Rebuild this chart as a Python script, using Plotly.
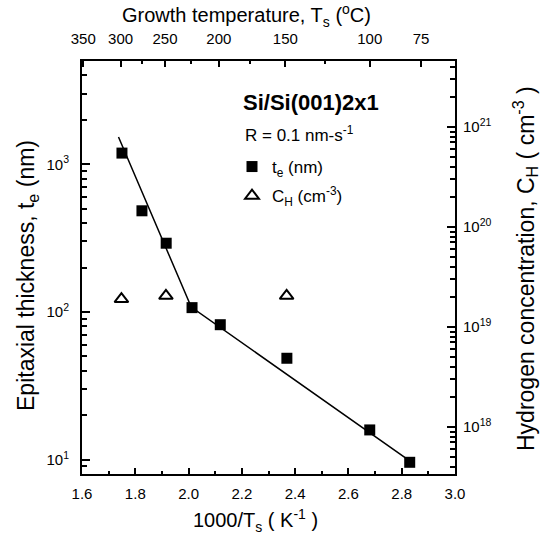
import math
import plotly.graph_objects as go

# ---- data ----
x_te = [1.75, 1.825, 1.916, 2.013, 2.119, 2.369, 2.68, 2.83]
te_nm = [1190, 484, 292, 107, 82, 48.6, 15.9, 9.6]

x_ch = [1.748, 1.915, 2.368]
ch_cm3 = [1.9e19, 2.05e19, 2.05e19]

fit_x = [1.737, 2.01, 2.83]
fit_y = [1530, 108, 9.8]

x_ticks = [1.6, 1.8, 2.0, 2.2, 2.4, 2.6, 2.8, 3.0]
x_ticklabels = ["1.6", "1.8", "2.0", "2.2", "2.4", "2.6", "2.8", "3.0"]
x_minor = [1.7, 1.9, 2.1, 2.3, 2.5, 2.7, 2.9]

top_temps_C = [350, 300, 250, 200, 150, 100, 75]
top_minor_C = [275, 225, 175, 125]

left_ticks = [10, 100, 1000]
left_ticklabels = ["10<sup>1</sup>", "10<sup>2</sup>", "10<sup>3</sup>"]
right_ticks = [1e18, 1e19, 1e20, 1e21]
right_ticklabels = ["10<sup>18</sup>", "10<sup>19</sup>", "10<sup>20</sup>", "10<sup>21</sup>"]

# ---- derived ----
top_vals = [1000.0 / (t + 273.15) for t in top_temps_C]
top_minor_vals = [1000.0 / (t + 273.15) for t in top_minor_C]
left_minor = [m * 10 ** e for e in range(0, 4) for m in range(2, 10) if 8 <= m * 10 ** e <= 5000]
right_minor = [m * 10.0 ** e for e in range(17, 22) for m in range(2, 10) if 3.4e17 <= m * 10.0 ** e <= 4.5e21]

FONT = "Liberation Sans, Arial, Helvetica, sans-serif"
W, H = 544, 540
L, R, T, B = 82, 455, 61, 474


def px(xp):
    return (xp - L) / (R - L)


def py(yp):
    return (B - yp) / (B - T)


fig = go.Figure()

fig.add_trace(go.Scatter(
    x=fit_x, y=fit_y, mode="lines", line=dict(color="black", width=1.5),
    showlegend=False, xaxis="x", yaxis="y", hoverinfo="skip"))

fig.add_trace(go.Scatter(
    x=x_te, y=te_nm, mode="markers", name="t<sub>e</sub> (nm)",
    marker=dict(symbol="square", size=11, color="black"),
    xaxis="x", yaxis="y", legendgroup="a"))

fig.add_trace(go.Scatter(
    x=x_ch, y=ch_cm3, mode="markers", name="C<sub>H</sub> (cm<sup>-3</sup>)",
    marker=dict(symbol="triangle-up-open", size=12, color="black", line=dict(width=2, color="black")),
    xaxis="x", yaxis="y2", legendgroup="b"))

# carrier trace so the top axis renders
fig.add_trace(go.Scatter(x=[None], y=[None], xaxis="x2", yaxis="y", showlegend=False, hoverinfo="skip"))

axis_common = dict(showgrid=False, zeroline=False, showline=True, linecolor="black", linewidth=2,
                   ticks="inside", tickcolor="black", tickwidth=1.5,
                   tickfont=dict(family=FONT, size=15, color="black"))

fig.update_layout(
    width=W, height=H,
    margin=dict(l=L, r=W - R, t=T, b=H - B, pad=0),
    paper_bgcolor="white", plot_bgcolor="white",
    font=dict(family=FONT, size=15, color="black"),
    xaxis=dict(range=[1.6, 3.0], tickmode="array", tickvals=x_ticks, ticktext=x_ticklabels,
               ticklen=6, ticklabelstandoff=5,
               minor=dict(tickvals=x_minor, ticks="inside", ticklen=3, tickcolor="black", tickwidth=1.5),
               anchor="y", **axis_common),
    xaxis2=dict(range=[1.6, 3.0], overlaying="x", side="top", anchor="y", tickmode="array",
                tickvals=top_vals, ticktext=[str(t) for t in top_temps_C], ticklen=6, ticklabelstandoff=9,
                minor=dict(tickvals=top_minor_vals, ticks="inside", ticklen=3, tickcolor="black", tickwidth=1.5),
                **axis_common),
    yaxis=dict(type="log", range=[math.log10(8), math.log10(5000)], tickmode="array",
               tickvals=left_ticks, ticktext=left_ticklabels, ticklen=8, ticklabelstandoff=8,
               minor=dict(tickvals=left_minor, ticks="inside", ticklen=5, tickcolor="black", tickwidth=1.5),
               anchor="x", **axis_common),
    yaxis2=dict(type="log", range=[17.53, 21.66], overlaying="y", side="right", anchor="x",
                tickmode="array", tickvals=right_ticks, ticktext=right_ticklabels, ticklen=8,
                ticklabelstandoff=3,
                minor=dict(tickvals=right_minor, ticks="inside", ticklen=5, tickcolor="black", tickwidth=1.5),
                **axis_common),
    showlegend=True,
    legend=dict(x=px(232), y=py(149), xanchor="left", yanchor="top", bgcolor="rgba(0,0,0,0)",
                font=dict(family=FONT, size=17, color="black"), itemwidth=30,
                tracegroupgap=4, traceorder="grouped"),
)

ann = dict(xref="paper", yref="paper", showarrow=False)
fig.add_annotation(text="Growth temperature, T<sub>s</sub> (<sup>o</sup>C)", x=px(246), y=py(16),
                   xanchor="center", yanchor="middle", font=dict(family=FONT, size=20, color="black"), **ann)
fig.add_annotation(text="1000/T<sub>s</sub> ( K<sup>-1</sup> )", x=px(255), y=py(520),
                   xanchor="center", yanchor="middle", font=dict(family=FONT, size=20, color="black"), **ann)
fig.add_annotation(text="Epitaxial thickness, t<sub>e</sub> (nm)", x=px(27), y=py(276), textangle=-90,
                   xanchor="center", yanchor="middle", font=dict(family=FONT, size=23, color="black"), **ann)
fig.add_annotation(text="Hydrogen concentration, C<sub>H</sub> ( cm<sup>-3</sup> )", x=px(525), y=py(269),
                   textangle=-90, xanchor="center", yanchor="middle",
                   font=dict(family=FONT, size=23, color="black"), **ann)
fig.add_annotation(text="<b>Si/Si(001)2x1</b>", x=px(311), y=py(102), xanchor="center", yanchor="middle",
                   font=dict(family=FONT, size=22, color="black"), **ann)
fig.add_annotation(text="R = 0.1 nm-s<sup>-1</sup>", x=px(243), y=py(134), xanchor="left", yanchor="middle",
                   font=dict(family=FONT, size=17, color="black"), **ann)

fig.write_html("out.html", config={"displayModeBar": False},
               post_script="document.body.style.margin='0px';")
